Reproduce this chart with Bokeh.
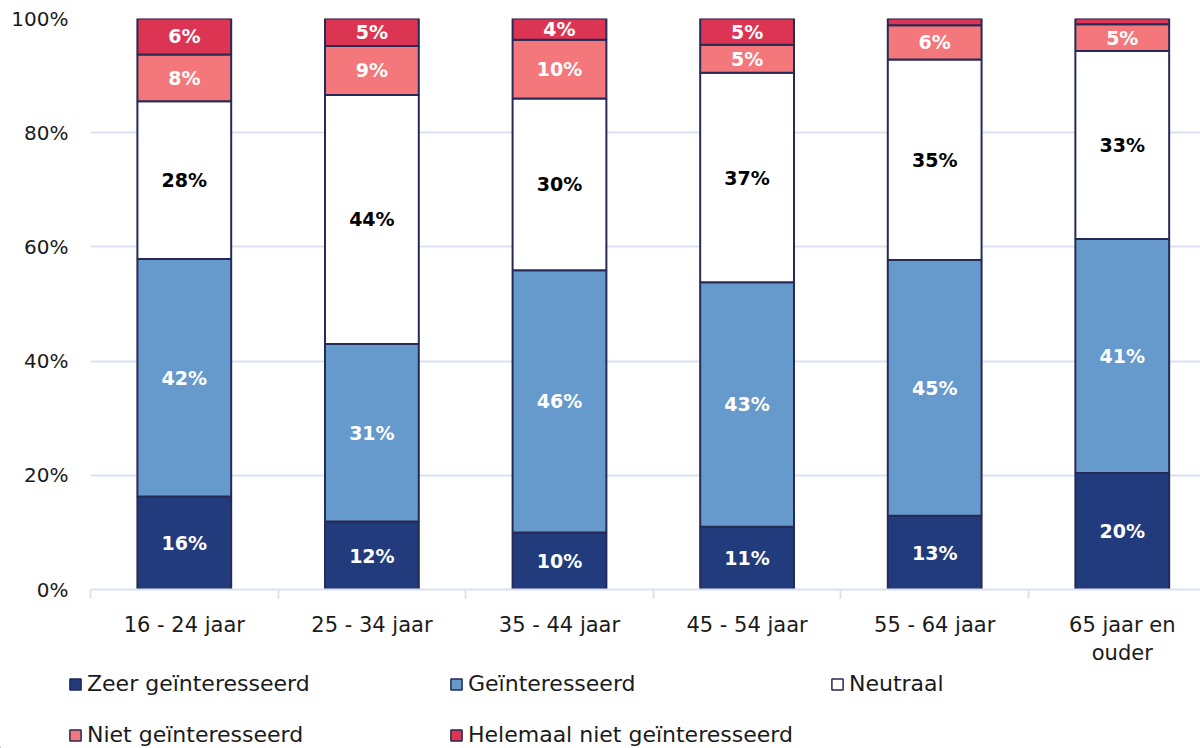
from bokeh.plotting import figure
from bokeh.models import FixedTicker, Legend, LegendItem, ColumnDataSource, Range1d
from bokeh.core.properties import value
from bokeh.embed import file_html
from bokeh.resources import INLINE

categories = ["16 - 24 jaar", "25 - 34 jaar", "35 - 44 jaar", "45 - 54 jaar", "55 - 64 jaar", "65 jaar en\nouder"]
series = ["Zeer geïnteresseerd", "Geïnteresseerd", "Neutraal", "Niet geïnteresseerd", "Helemaal niet geïnteresseerd"]
zeer = [16.3, 11.9, 10.0, 11.0, 12.9, 20.4]
geint = [41.6, 31.1, 45.9, 42.8, 44.8, 41.0]
neutraal = [27.6, 43.6, 30.1, 36.7, 35.1, 32.9]
niet = [8.2, 8.6, 10.3, 4.9, 6.0, 4.7]
helemaal = [6.3, 4.8, 3.7, 4.6, 1.2, 1.0]
y_ticks = [0, 20, 40, 60, 80, 100]

colors = ["#213b7c", "#6699cc", "#ffffff", "#f4777b", "#dc3553"]
label_colors = ["#ffffff", "#ffffff", "#000000", "#ffffff", "#ffffff"]
OUTLINE = "#262a56"
FONT = "DejaVu Sans"

xs = list(range(len(categories)))
keys = ["s0", "s1", "s2", "s3", "s4"]
data_series = [zeer, geint, neutraal, niet, helemaal]
src = ColumnDataSource(dict(x=xs, **{k: v for k, v in zip(keys, data_series)}))

p = figure(width=1200, height=668, output_backend="svg", toolbar_location=None,
           x_range=Range1d(-0.5, 5.417), y_range=Range1d(0, 100),
           min_border_left=90, min_border_right=0, min_border_top=18, min_border_bottom=78)
p.outline_line_color = None
p.xgrid.grid_line_color = None
p.ygrid.grid_line_color = "#d9e1f2"
p.ygrid.grid_line_width = 2

p.vbar_stack(keys, x="x", width=0.5, source=src, fill_color=colors,
             line_color=OUTLINE, line_width=2)

# data labels
bottom = [0.0] * len(xs)
for i, vals in enumerate(data_series):
    lx, ly, lt = [], [], []
    for j, v in enumerate(vals):
        if v >= 3:
            lx.append(xs[j]); ly.append(bottom[j] + v / 2); lt.append(f"{round(v)}%")
        bottom[j] += v
    p.text(x=lx, y=ly, text=lt, text_align="center", text_baseline="middle",
           text_font=value(FONT), text_font_style="bold", text_font_size="19px",
           text_color=label_colors[i])

# y axis
p.yaxis.ticker = FixedTicker(ticks=y_ticks)
p.yaxis.major_label_overrides = {t: f"{t}%" for t in y_ticks}
p.yaxis.axis_line_color = None
p.yaxis.major_tick_line_color = None
p.yaxis.minor_tick_line_color = None
p.yaxis.major_tick_out = 0
p.yaxis.major_label_standoff = 22
p.yaxis.major_label_text_font = FONT
p.yaxis.major_label_text_font_size = "20px"
p.yaxis.major_label_text_color = "#1a1a1a"

# x axis
p.xaxis.ticker = FixedTicker(ticks=xs, minor_ticks=[x - 0.5 for x in xs] + [xs[-1] + 0.5])
p.xaxis.major_label_overrides = {x: c for x, c in zip(xs, categories)}
p.xaxis.axis_line_color = "#d9e1f2"
p.xaxis.axis_line_width = 2
p.xaxis.major_tick_line_color = None
p.xaxis.major_tick_out = 0
p.xaxis.minor_tick_line_color = "#d9e1f2"
p.xaxis.minor_tick_line_width = 2
p.xaxis.minor_tick_out = 9
p.xaxis.minor_tick_in = 0
p.xaxis.major_label_standoff = 14
p.xaxis.major_label_text_font = FONT
p.xaxis.major_label_text_font_size = "21px"
p.xaxis.major_label_text_color = "#1a1a1a"

# legend in its own strip below the chart (swatch renderers sit outside the visible range)
lg = figure(width=1200, height=80, output_backend="svg", toolbar_location=None,
            x_range=Range1d(0, 1), y_range=Range1d(0, 1),
            x_axis_location=None, y_axis_location=None,
            min_border_left=0, min_border_right=0, min_border_top=0, min_border_bottom=0)
lg.grid.visible = False
lg.outline_line_color = None
items = []
for s, c in zip(series, colors):
    r = lg.vbar(x=[-5], top=[-5], bottom=[-6], width=0.1, fill_color=c,
                line_color=OUTLINE, line_width=1.5)
    items.append(LegendItem(label=s, renderers=[r]))
legend = Legend(items=items, ncols=3, location=(68, 1), orientation="horizontal",
                border_line_color=None, background_fill_alpha=0, padding=0, margin=0,
                glyph_width=14, glyph_height=14, label_height=24, label_width=336,
                label_standoff=5, spacing=26,
                label_text_font=FONT, label_text_font_size="22px", label_text_color="#1a1a1a")
lg.add_layout(legend, "center")

open("out.html", "w").write(file_html([p, lg], INLINE))
